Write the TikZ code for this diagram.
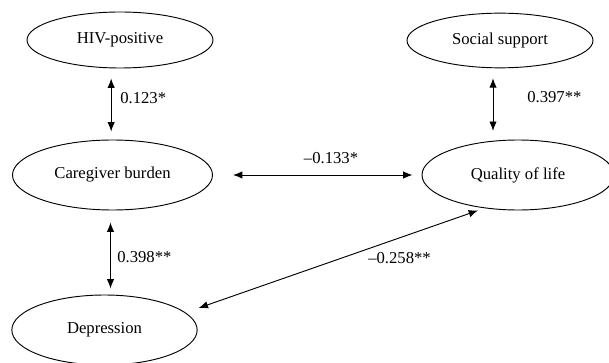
\documentclass[tikz,border=0pt]{standalone}
\usepackage{fontspec}
\setmainfont{Liberation Serif}
\usepackage{tikz}
\usetikzlibrary{arrows.meta}
\usetikzlibrary{shapes.geometric}

\begin{document}
\begin{tikzpicture}[x=0.75pt,y=-0.75pt,
		font=\fontsize{12.5}{15}\selectfont,
		latent/.style={ellipse,draw,line width=0.7pt,inner sep=0pt},
		corr/.style={{Latex[length=7pt,width=5.5pt]}-{Latex[length=7pt,width=5.5pt]},line width=0.7pt},
		coef/.style={inner sep=0pt}]

	\useasboundingbox (0,0) rectangle (609,363);

	% variables
	\node[latent,minimum width=139.5pt,minimum height=42pt] (hiv) at (120,40) {HIV-positive};
	\node[latent,minimum width=139.5pt,minimum height=41pt] (soc) at (500,40.5) {Social support};
	\node[latent,minimum width=150pt,minimum height=52.5pt] (care) at (112.5,175) {Caregiver burden};
	\node[latent,minimum width=144pt,minimum height=52.5pt] (qol) at (518,175) {Quality of life};
	\node[latent,minimum width=139pt,minimum height=52.5pt] (dep) at (104.5,330) {Depression};

	% correlations
	\draw[corr,shorten <=7.5pt,shorten >=6pt] ([xshift=-1pt]care.north |- hiv.south) -- ([xshift=-1pt]care.north);
	\draw[corr,shorten <=7.5pt,shorten >=6.5pt] ([xshift=-5.25pt]soc.south) -- ([xshift=-5.25pt]soc.south |- qol.north);
	\draw[corr,shorten <=15pt,shorten >=6.75pt] (care.east) -- (care.east -| qol.west);
	\draw[corr,shorten <=9pt,shorten >=4.5pt] ([xshift=-1.5pt]care.south) -- ([xshift=-1.5pt]care.south |- dep.north);
	\draw[corr] ([xshift=-30pt]qol.south) -- ([shift={(0.75pt,16.5pt)}]dep.east);

	% coefficients
	\node[coef,anchor=west] (c1) at (120,98) {0.123*};
	\node[coef,anchor=west] (c2) at (527,97) {0.397**};
	\node[coef] (c3) at (331,158) {--0.133*};
	\node[coef,anchor=west] (c4) at (117,257) {0.398**};
	\node[coef,anchor=west] (c5) at (368,258) {--0.258**};

\end{tikzpicture}
\end{document}
